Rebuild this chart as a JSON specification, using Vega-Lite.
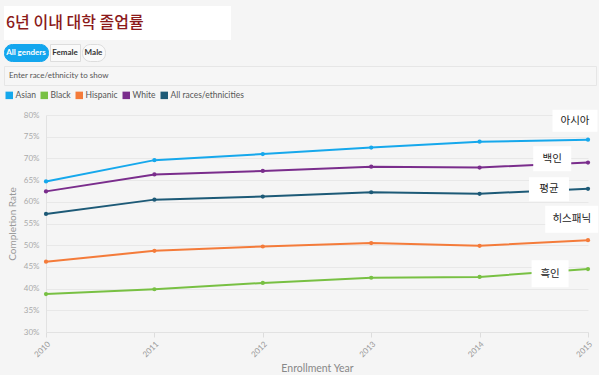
{
  "$schema": "https://vega.github.io/schema/vega-lite/v6.json",
  "background": "#f5f5f5",
  "padding": {"left": 3, "top": 6, "right": 0, "bottom": 0},
  "config": {
    "font": "Lato",
    "view": {"stroke": null}
  },
  "resolve": {"scale": {"color": "independent"}, "legend": {"color": "independent"}},
  "datasets": {
    "title": [{"t": "6년 이내 대학 졸업률"}],
    "b1": [{"g": "All genders"}],
    "b2": [{"g": "Female"}],
    "b3": [{"g": "Male"}],
    "input": [{"t": "Enter race/ethnicity to show"}],
    "blank": [{"t": ""}],
    "rates": [
      {"series": "Asian", "year": 2010, "rate": 64.7},
      {"series": "Asian", "year": 2011, "rate": 69.6},
      {"series": "Asian", "year": 2012, "rate": 71.0},
      {"series": "Asian", "year": 2013, "rate": 72.5},
      {"series": "Asian", "year": 2014, "rate": 73.85},
      {"series": "Asian", "year": 2015, "rate": 74.3},
      {"series": "Black", "year": 2010, "rate": 38.75},
      {"series": "Black", "year": 2011, "rate": 39.85},
      {"series": "Black", "year": 2012, "rate": 41.3},
      {"series": "Black", "year": 2013, "rate": 42.5},
      {"series": "Black", "year": 2014, "rate": 42.7},
      {"series": "Black", "year": 2015, "rate": 44.5},
      {"series": "Hispanic", "year": 2010, "rate": 46.2},
      {"series": "Hispanic", "year": 2011, "rate": 48.7},
      {"series": "Hispanic", "year": 2012, "rate": 49.7},
      {"series": "Hispanic", "year": 2013, "rate": 50.5},
      {"series": "Hispanic", "year": 2014, "rate": 49.85},
      {"series": "Hispanic", "year": 2015, "rate": 51.15},
      {"series": "White", "year": 2010, "rate": 62.4},
      {"series": "White", "year": 2011, "rate": 66.3},
      {"series": "White", "year": 2012, "rate": 67.1},
      {"series": "White", "year": 2013, "rate": 68.1},
      {"series": "White", "year": 2014, "rate": 67.9},
      {"series": "White", "year": 2015, "rate": 69.05},
      {"series": "All races/ethnicities", "year": 2010, "rate": 57.2},
      {"series": "All races/ethnicities", "year": 2011, "rate": 60.5},
      {"series": "All races/ethnicities", "year": 2012, "rate": 61.2},
      {"series": "All races/ethnicities", "year": 2013, "rate": 62.2},
      {"series": "All races/ethnicities", "year": 2014, "rate": 61.85},
      {"series": "All races/ethnicities", "year": 2015, "rate": 63.0}
    ],
    "notes": [
      {"label": "아시아", "year": 2014.88, "rate": 78.7},
      {"label": "백인", "year": 2014.67, "rate": 69.9},
      {"label": "평균", "year": 2014.64, "rate": 62.9},
      {"label": "히스패닉", "year": 2014.85, "rate": 56.0},
      {"label": "흑인", "year": 2014.65, "rate": 43.4}
    ]
  },
  "spacing": 5,
  "vconcat": [
    {
      "spacing": 3,
      "vconcat": [
        {
          "data": {"name": "title"},
          "width": 227,
          "height": 34,
          "view": {"fill": "white", "stroke": null},
          "mark": {"type": "text", "align": "left", "baseline": "middle", "dx": 2, "font": "Noto Sans CJK KR", "fontSize": 16, "fontWeight": 500, "color": "#8b1a1a"},
          "encoding": {
            "x": {"field": "t", "type": "nominal", "bandPosition": 0, "scale": {"type": "band", "paddingInner": 0, "paddingOuter": 0}, "axis": null},
            "text": {"field": "t"}
          }
        },
        {
          "spacing": 0,
          "hconcat": [
            {
              "data": {"name": "b1"},
              "width": 44,
              "height": 17,
              "view": {"fill": "#13a6ee", "stroke": "#13a6ee", "cornerRadius": 8},
              "mark": {"type": "text", "fontSize": 8, "fontWeight": "bold", "color": "white", "baseline": "middle"},
              "encoding": {"text": {"field": "g"}}
            },
            {
              "data": {"name": "b2"},
              "width": 30,
              "height": 17,
              "view": {"fill": "#fafafa", "stroke": "#dddddd"},
              "mark": {"type": "text", "fontSize": 8, "fontWeight": "bold", "color": "#333333", "baseline": "middle"},
              "encoding": {"text": {"field": "g"}}
            },
            {
              "data": {"name": "b3"},
              "width": 23,
              "height": 17,
              "view": {"fill": "#fafafa", "stroke": "#dddddd", "cornerRadius": 8},
              "mark": {"type": "text", "fontSize": 8, "fontWeight": "bold", "color": "#333333", "baseline": "middle"},
              "encoding": {"text": {"field": "g"}}
            }
          ]
        },
        {
          "data": {"name": "input"},
          "width": 592,
          "height": 19,
          "view": {"fill": "#f6f6f6", "stroke": "#e6e6e6"},
          "mark": {"type": "text", "align": "left", "baseline": "middle", "dx": 5, "fontSize": 8, "color": "#555555"},
          "encoding": {
            "x": {"field": "t", "type": "nominal", "bandPosition": 0, "scale": {"type": "band", "paddingInner": 0, "paddingOuter": 0}, "axis": null},
            "text": {"field": "t"}
          }
        }
      ]
    },
    {
      "spacing": 0,
      "resolve": {"scale": {"color": "independent"}, "legend": {"color": "independent"}},
      "hconcat": [
        {
          "data": {"name": "blank"},
          "width": 1,
          "height": 217,
          "mark": {"type": "text"},
          "encoding": {"text": {"field": "t"}}
        },
        {
          "width": 542,
          "height": 217,
          "encoding": {
            "x": {
              "field": "year", "type": "quantitative",
              "scale": {"domain": [2010, 2015], "nice": false, "zero": false},
              "axis": {
                "title": "Enrollment Year", "values": [2010, 2011, 2012, 2013, 2014, 2015], "format": "d",
                "labelAngle": -45, "labelFontSize": 8, "labelColor": "#999999", "labelPadding": 3,
                "tickSize": 5, "tickColor": "#dddddd", "domainColor": "#e2e2e2", "grid": false,
                "titleFontSize": 10.5, "titleFontWeight": "normal", "titleColor": "#888888", "titlePadding": 5
              }
            },
            "y": {
              "field": "rate", "type": "quantitative",
              "scale": {"domain": [30, 80], "nice": false, "zero": false},
              "axis": {
                "title": "Completion Rate", "values": [30, 35, 40, 45, 50, 55, 60, 65, 70, 75, 80],
                "labelExpr": "datum.value + '%'", "labelOverlap": false, "labelFontSize": 8, "labelColor": "#aaaaaa", "labelPadding": 7,
                "ticks": false, "domainColor": "#e2e2e2", "gridColor": "#e8e8e8",
                "titleFontSize": 10, "titleFontWeight": "normal", "titleColor": "#999999", "titlePadding": 6
              }
            }
          },
          "layer": [
            {
              "data": {"name": "rates"},
              "mark": {"type": "line", "strokeWidth": 2, "point": {"filled": true, "size": 18}},
              "encoding": {
                "color": {
                  "field": "series", "type": "nominal",
                  "scale": {
                    "domain": ["Asian", "Black", "Hispanic", "White", "All races/ethnicities"],
                    "range": ["#16a8ec", "#78c043", "#f47b3a", "#7a2d8c", "#1d5a77"]
                  },
                  "legend": {
                    "title": null, "orient": "none", "direction": "horizontal", "legendX": -41, "legendY": -24,
                    "symbolType": "square", "symbolSize": 56, "symbolStrokeWidth": 0, "symbolOpacity": 1,
                    "labelFontSize": 8.5, "labelColor": "#555555", "labelOffset": 2, "columnPadding": 4
                  }
                }
              }
            },
            {
              "data": {"name": "notes"},
              "mark": {"type": "point", "filled": true, "opacity": 1, "fill": "white", "strokeWidth": 0, "size": 2500},
              "encoding": {
                "shape": {
                  "field": "label", "type": "nominal", "legend": null,
                  "scale": {
                    "domain": ["아시아", "백인", "평균", "히스패닉", "흑인"],
                    "range": [
                      "M-0.9,-0.44H0.9V0.44H-0.9Z",
                      "M-0.76,-0.5H0.76V0.5H-0.76Z",
                      "M-0.8,-0.48H0.8V0.48H-0.8Z",
                      "M-1.06,-0.54H1.06V0.54H-1.06Z",
                      "M-0.74,-0.54H0.74V0.54H-0.74Z"
                    ]
                  }
                }
              }
            },
            {
              "data": {"name": "notes"},
              "mark": {"type": "text", "font": "Noto Sans CJK KR", "fontSize": 10.5, "color": "#222222", "baseline": "middle"},
              "encoding": {
                "text": {"field": "label"}
              }
            }
          ]
        }
      ]
    }
  ]
}
